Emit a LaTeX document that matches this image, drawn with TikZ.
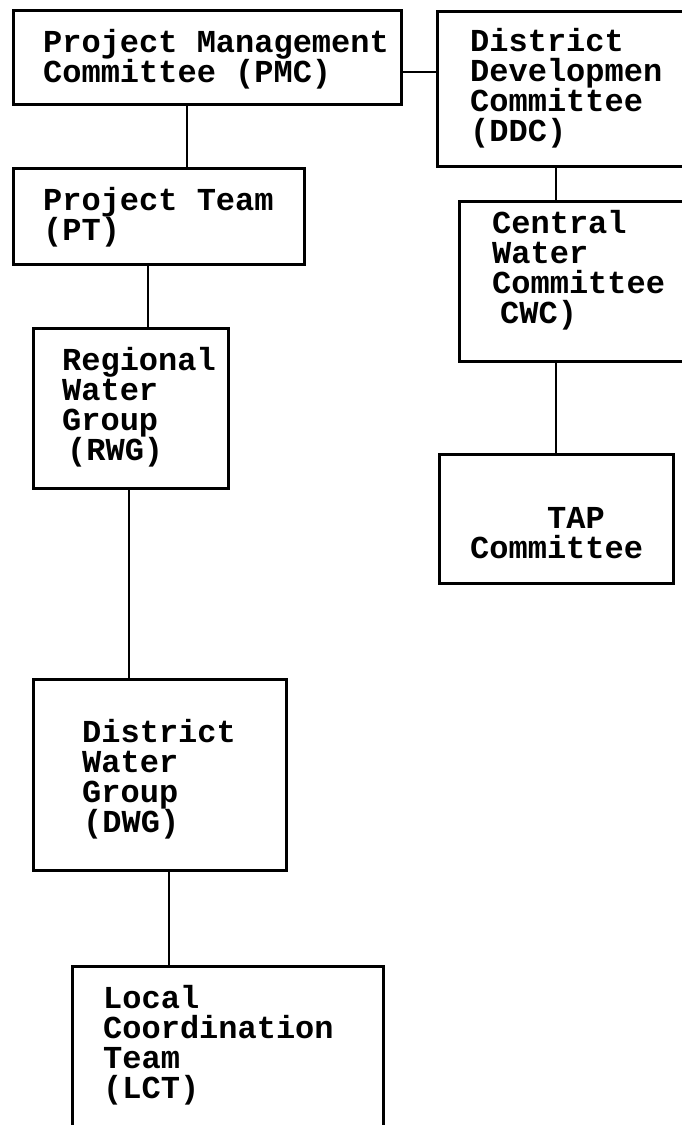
\documentclass[tikz,border=0pt]{standalone}
\usepackage{fontspec}
\setmonofont{Liberation Mono}
\AtBeginDocument{\setlength{\lineskiplimit}{-100pt}}
\begin{document}
\begin{tikzpicture}[x=1pt,y=-1pt,
  box/.style={draw, line width=2.5pt, rectangle, inner sep=0pt, anchor=north west},
  lbl/.style={anchor=base west, inner sep=0pt, align=left,
    font=\ttfamily\bfseries\fontsize{32}{30}\selectfont},
  conn/.style={line width=2pt}]
\useasboundingbox (0,0) rectangle (681,1125);
% boxes
\node[box, minimum width=388pt, minimum height=94pt]  (pmc) at (12,9) {};
\node[box, minimum width=248pt, minimum height=155pt] (ddc) at (436,10) {};
\node[box, minimum width=291pt, minimum height=96pt]  (pt)  at (12,167) {};
\node[box, minimum width=226pt, minimum height=160pt] (cwc) at (458,200) {};
\node[box, minimum width=195pt, minimum height=160pt] (rwg) at (32,327) {};
\node[box, minimum width=234pt, minimum height=129pt] (tap) at (438,453) {};
\node[box, minimum width=253pt, minimum height=191pt] (dwg) at (32,678) {};
\node[box, minimum width=311pt, minimum height=162pt] (lct) at (71,965) {};
% labels (anchor = baseline of last line)
\node[lbl] (pmct) at (43,82)  {Project Management\\Committee (PMC)};
\node[lbl] (ddct) at (470,141) {District\\Developmen\\Committee\\(DDC)};
\node[lbl] (ptt)  at (43,240) {Project Team\\(PT)};
\node[lbl] (cwct) at (492,323) {Central\\Water\\Committee\\\hspace*{8pt}CWC)};
\node[lbl] (rwgt) at (62,460) {Regional\\Water\\Group\\\hspace*{5pt}(RWG)};
\node[lbl] (tapt) at (470,558) {\hspace*{77pt}TAP\\Committee};
\node[lbl] (dwgt) at (82,832) {District\\Water\\Group\\\hspace*{1pt}(DWG)};
\node[lbl] (lctt) at (103,1098) {Local\\Coordination\\Team\\(LCT)};
% connectors
\draw[conn] ([yshift=-15pt]pmc.east) -- ([yshift=-15pt]pmc.east -| ddc.west);
\draw[conn] ([xshift=-20pt]pmc.south) -- ([xshift=-20pt]pmc.south |- pt.north);
\draw[conn] ([xshift=-5pt]ddc.south) -- ([xshift=-5pt]ddc.south |- cwc.north);
\draw[conn] ([xshift=-10.5pt]pt.south) -- ([xshift=-10.5pt]pt.south |- rwg.north);
\draw[conn] ([xshift=-16pt]cwc.south) -- ([xshift=-16pt]cwc.south |- tap.north);
\draw[conn] ([xshift=-1.5pt]rwg.south) -- ([xshift=-1.5pt]rwg.south |- dwg.north);
\draw[conn] ([xshift=9.5pt]dwg.south) -- ([xshift=9.5pt]dwg.south |- lct.north);
\end{tikzpicture}
\end{document}
